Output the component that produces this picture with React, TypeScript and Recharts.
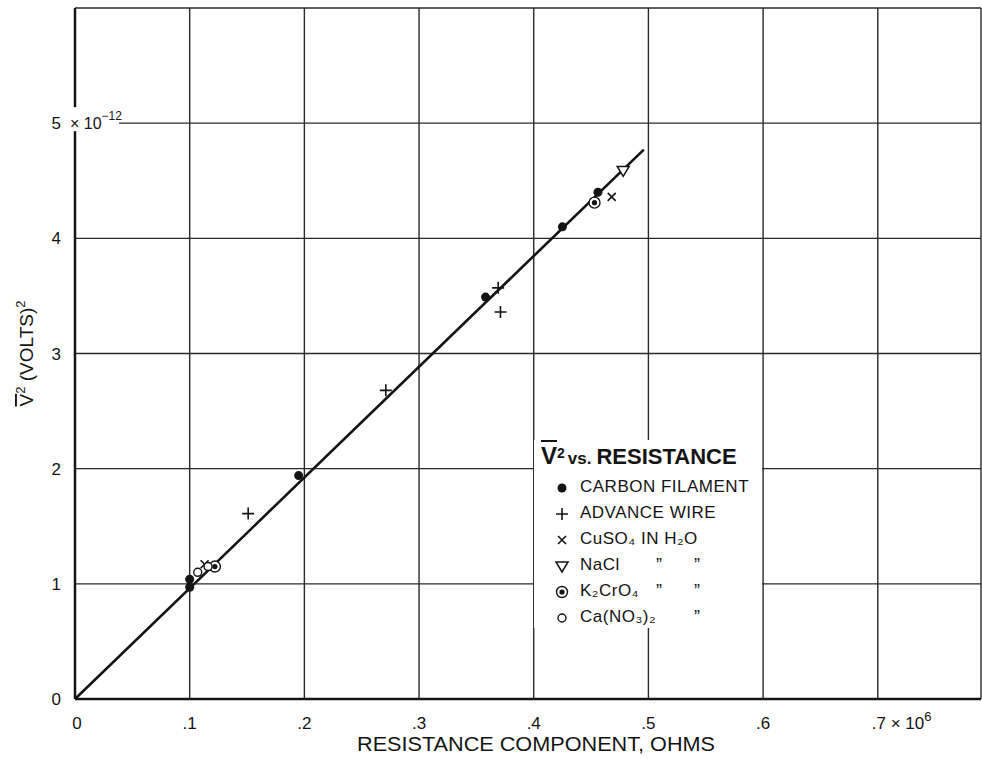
import React from 'react';
import { ScatterChart, Scatter, XAxis, YAxis, CartesianGrid, ReferenceLine, Label } from 'recharts';

const X_TICKS = [0, 0.1, 0.2, 0.3, 0.4, 0.5, 0.6, 0.7];
const X_TICK_LABELS = ['0', '.1', '.2', '.3', '.4', '.5', '.6', '.7'];
const Y_TICKS = [0, 1, 2, 3, 4, 5, 6];
const Y_TICK_LABELS = ['0', '1', '2', '3', '4', '5', ''];

// resistance (x 10^6 ohms) vs mean square voltage (x 10^-12 volts^2)
const carbonFilament = [
  { x: 0.1, y: 0.97 },
  { x: 0.1, y: 1.04 },
  { x: 0.195, y: 1.94 },
  { x: 0.358, y: 3.49 },
  { x: 0.425, y: 4.1 },
  { x: 0.456, y: 4.4 },
];
const advanceWire = [
  { x: 0.151, y: 1.61 },
  { x: 0.271, y: 2.68 },
  { x: 0.369, y: 3.57 },
  { x: 0.371, y: 3.36 },
];
const cuso4 = [
  { x: 0.113, y: 1.17 },
  { x: 0.468, y: 4.36 },
];
const nacl = [{ x: 0.478, y: 4.59 }];
const k2cro4 = [
  { x: 0.122, y: 1.15 },
  { x: 0.453, y: 4.31 },
];
const cano3 = [
  { x: 0.107, y: 1.1 },
  { x: 0.116, y: 1.15 },
];
const fitLine = [
  { x: 0, y: 0 },
  { x: 0.496, y: 4.77 },
];

const INK = '#141414';
const FONT = '"Liberation Sans", "DejaVu Sans", Arial, sans-serif';

const Dot = ({ cx, cy }: any) => <circle cx={cx} cy={cy} r={4.5} fill={INK} />;
const Plus = ({ cx, cy }: any) => (
  <path d={`M${cx - 6},${cy}H${cx + 6}M${cx},${cy - 6}V${cy + 6}`} stroke={INK} strokeWidth={1.6} />
);
const Cross = ({ cx, cy }: any) => (
  <path
    d={`M${cx - 4},${cy - 4}L${cx + 4},${cy + 4}M${cx + 4},${cy - 4}L${cx - 4},${cy + 4}`}
    stroke={INK}
    strokeWidth={1.6}
  />
);
const Tri = ({ cx, cy }: any) => (
  <path
    d={`M${cx - 6},${cy - 4}L${cx + 6},${cy - 4}L${cx},${cy + 6}Z`}
    fill="#fff"
    stroke={INK}
    strokeWidth={1.5}
  />
);
const Bull = ({ cx, cy }: any) => (
  <g>
    <circle cx={cx} cy={cy} r={5.5} fill="#fff" stroke={INK} strokeWidth={1.4} />
    <circle cx={cx} cy={cy} r={2.6} fill={INK} />
  </g>
);
const Ring = ({ cx, cy }: any) => (
  <circle cx={cx} cy={cy} r={4} fill="#fff" stroke={INK} strokeWidth={1.4} />
);

const XTick = ({ x, y, payload }: any) => {
  const i = X_TICKS.indexOf(payload.value);
  if (i === X_TICKS.length - 1) {
    return (
      <text x={x - 6} y={y + 22} fontSize={17} fontFamily={FONT} fill={INK}>
        {X_TICK_LABELS[i]} × 10
        <tspan dy={-8} fontSize={13}>6</tspan>
      </text>
    );
  }
  return (
    <text x={x + (i === 0 ? 2 : 0)} y={y + 22} textAnchor="middle" fontSize={17} fontFamily={FONT} fill={INK}>
      {X_TICK_LABELS[i]}
    </text>
  );
};

const YTick = ({ x, y, payload }: any) => {
  const i = Y_TICKS.indexOf(payload.value);
  const main = (
    <text x={x - 6} y={y + 6} textAnchor="end" fontSize={17} fontFamily={FONT} fill={INK}>
      {Y_TICK_LABELS[i]}
    </text>
  );
  if (payload.value !== 5) return main;
  return (
    <g>
      <rect x={x + 2} y={y - 16} width={50} height={24} fill="#fff" />
      {main}
      <text x={x + 3} y={y + 6} fontSize={16} fontFamily={FONT} fill={INK}>
        × 10
        <tspan dy={-9} fontSize={12}>−12</tspan>
      </text>
    </g>
  );
};

const legendRows = [
  { shape: Dot, text: 'CARBON FILAMENT', d1: '', d2: '' },
  { shape: Plus, text: 'ADVANCE WIRE', d1: '', d2: '' },
  { shape: Cross, text: 'CuSO₄  IN  H₂O', d1: '', d2: '' },
  { shape: Tri, text: 'NaCl', d1: '”', d2: '”' },
  { shape: Bull, text: 'K₂CrO₄', d1: '”', d2: '”' },
  { shape: Ring, text: 'Ca(NO₃)₂', d1: '', d2: '”' },
];

function LegendBox() {
  return (
    <div
      style={{
        position: 'absolute',
        left: 534,
        top: 440,
        width: 228,
        height: 188,
        background: '#fff',
        fontFamily: FONT,
        color: INK,
      }}
    >
      <div style={{ position: 'absolute', left: 7, top: 2, whiteSpace: 'nowrap', fontWeight: 700 }}>
        <span style={{ fontSize: 24, textDecoration: 'overline' }}>V</span>
        <sup style={{ fontSize: 14 }}>2</sup>
        <span style={{ fontSize: 17, marginLeft: 3 }}>vs.</span>
        <span style={{ fontSize: 22, marginLeft: 5 }}>RESISTANCE</span>
      </div>
      {legendRows.map((r, k) => {
        const S = r.shape;
        const top = 37 + k * 26;
        return (
          <div key={k} style={{ position: 'absolute', left: 0, top, width: 228, height: 20 }}>
            <svg width={16} height={16} style={{ position: 'absolute', left: 20, top: 3 }}>
              <S cx={8} cy={8} />
            </svg>
            <span
              style={{
                position: 'absolute',
                left: 46,
                top: 0,
                fontSize: 17,
                letterSpacing: 0.5,
                whiteSpace: 'nowrap',
              }}
            >
              {r.text}
            </span>
            {r.d1 && <span style={{ position: 'absolute', left: 122, top: 0, fontSize: 18 }}>{r.d1}</span>}
            {r.d2 && <span style={{ position: 'absolute', left: 160, top: 0, fontSize: 18 }}>{r.d2}</span>}
          </div>
        );
      })}
    </div>
  );
}

export default function App() {
  return (
    <div style={{ position: 'absolute', left: 0, top: 0, width: 982, height: 759, background: '#fff' }}>
      <ScatterChart width={982} height={759} margin={{ top: 8, right: 1, bottom: 0, left: 0 }}>
        <CartesianGrid stroke="#2a2a2a" strokeWidth={1.4} />
        <XAxis
          type="number"
          dataKey="x"
          domain={[0, 0.79]}
          ticks={X_TICKS}
          allowDataOverflow
          height={60}
          tick={<XTick />}
          tickLine={false}
          axisLine={{ stroke: INK, strokeWidth: 2.5 }}
        >
          <Label
            content={({ viewBox }: any) => (
              <text
                x={viewBox.x + viewBox.width / 2 + 8}
                y={viewBox.y + 52}
                textAnchor="middle"
                fontSize={20}
                fontFamily={FONT}
                fill={INK}
                textLength={358}
                lengthAdjust="spacingAndGlyphs"
              >
                RESISTANCE  COMPONENT, OHMS
              </text>
            )}
          />
        </XAxis>
        <YAxis
          type="number"
          dataKey="y"
          domain={[0, 6]}
          ticks={Y_TICKS}
          allowDataOverflow
          width={75}
          tick={<YTick />}
          tickLine={false}
          axisLine={{ stroke: INK, strokeWidth: 2.5 }}
        >
          <Label
            content={({ viewBox }: any) => {
              const cx = viewBox.x + 33;
              const cy = viewBox.y + viewBox.height / 2;
              return (
                <text
                  x={cx}
                  y={cy}
                  transform={`rotate(-90 ${cx} ${cy})`}
                  textAnchor="middle"
                  fontSize={19}
                  fontFamily={FONT}
                  fill={INK}
                >
                  <tspan style={{ textDecoration: 'overline' }}>V</tspan>
                  <tspan dy={-8} fontSize={13}>2</tspan>
                  <tspan dy={8}> (VOLTS)</tspan>
                  <tspan dy={-8} fontSize={13}>2</tspan>
                </text>
              );
            }}
          />
        </YAxis>
        <ReferenceLine segment={fitLine} stroke={INK} strokeWidth={2.6} ifOverflow="visible" />
        <Scatter data={carbonFilament} shape={<Dot />} isAnimationActive={false} />
        <Scatter data={advanceWire} shape={<Plus />} isAnimationActive={false} />
        <Scatter data={cuso4} shape={<Cross />} isAnimationActive={false} />
        <Scatter data={nacl} shape={<Tri />} isAnimationActive={false} />
        <Scatter data={k2cro4} shape={<Bull />} isAnimationActive={false} />
        <Scatter data={cano3} shape={<Ring />} isAnimationActive={false} />
      </ScatterChart>
      <LegendBox />
    </div>
  );
}
